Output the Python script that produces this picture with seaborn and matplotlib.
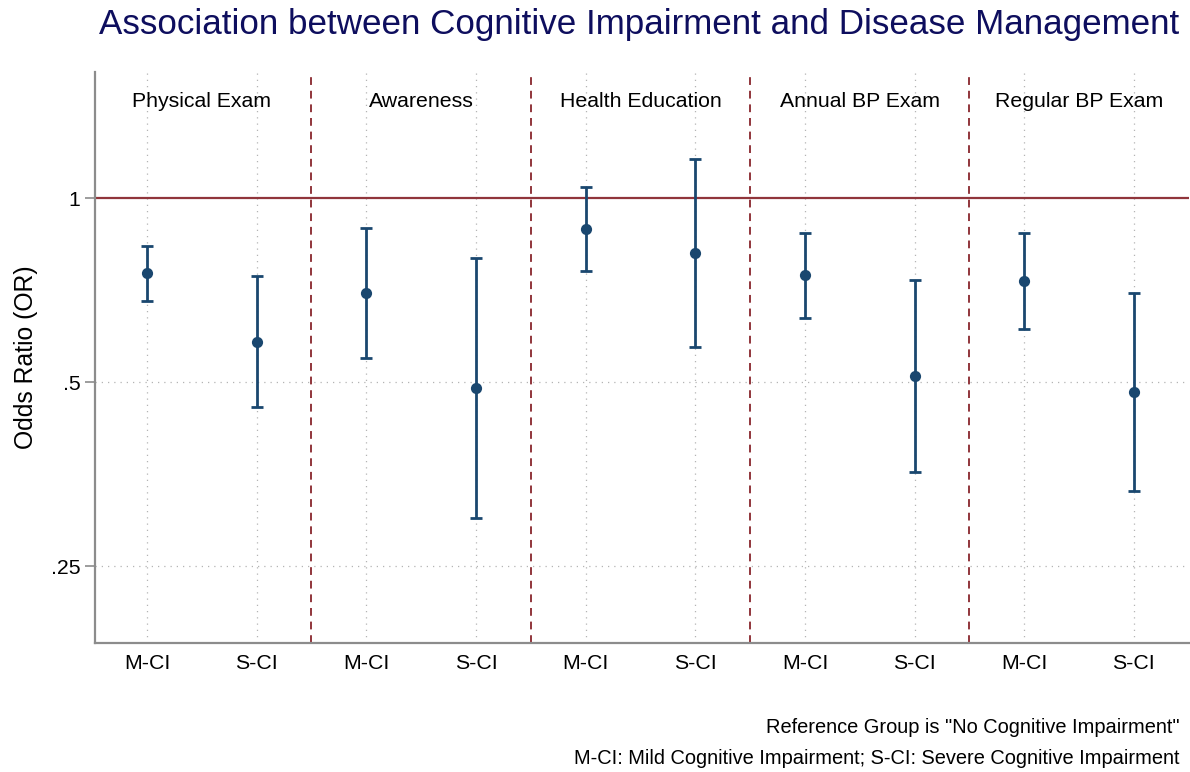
import numpy as np
import pandas as pd
import seaborn as sns
import matplotlib
matplotlib.use("Agg")
import matplotlib.pyplot as plt
import matplotlib.transforms as mtransforms

sns.set_style("white")
plt.rcParams['font.family'] = ['Liberation Sans', 'DejaVu Sans']
plt.rcParams['text.color'] = 'black'
plt.rcParams['axes.labelcolor'] = 'black'
plt.rcParams['xtick.color'] = 'black'
plt.rcParams['ytick.color'] = 'black'

# data
outcomes = ["Physical Exam", "Awareness", "Health Education", "Annual BP Exam", "Regular BP Exam"]
groups = ["M-CI", "S-CI"]
odds_ratio = [0.754, 0.581, 0.699, 0.489, 0.890, 0.813, 0.748, 0.511, 0.731, 0.482]
ci_lower = [0.678, 0.455, 0.547, 0.300, 0.760, 0.571, 0.636, 0.356, 0.610, 0.332]
ci_upper = [0.835, 0.745, 0.893, 0.798, 1.042, 1.158, 0.877, 0.734, 0.877, 0.699]
y_ticks = [0.25, 0.5, 1]
y_tick_labels = [".25", ".5", "1"]

navy = "#1a476f"
cranberry = "#90353b"

df = pd.DataFrame({
    "outcome": np.repeat(outcomes, 2),
    "group": groups * len(outcomes),
    "pos": np.arange(1, 2 * len(outcomes) + 1),
    "OR": odds_ratio,
    "lo": ci_lower,
    "hi": ci_upper,
})

fig = plt.figure(figsize=(11.9, 7.72), dpi=100)
ax = fig.add_axes([0.0798, 0.167, 0.9191, 0.7398])
ax.set_yscale("log", base=2)

# grid
for p in df["pos"]:
    ax.axvline(p, color="#b4b4b4", lw=0.9, ls=(0, (1, 4)), zorder=0)
for t in y_ticks[:2]:
    ax.axhline(t, color="#b4b4b4", lw=0.9, ls=(0, (1, 4)), zorder=0)

ax.axhline(1, color=cranberry, lw=1.6, zorder=1)
for k in range(1, len(outcomes)):
    ax.axvline(2 * k + 0.5, color=cranberry, lw=1.4, ls=(0, (4, 3)), zorder=1)

ax.errorbar(df["pos"], df["OR"],
            yerr=[df["OR"] - df["lo"], df["hi"] - df["OR"]],
            fmt="none", ecolor=navy, elinewidth=2, capsize=4, capthick=2, zorder=3)
sns.scatterplot(data=df, x="pos", y="OR", color=navy, s=65, edgecolor=navy,
                linewidth=0, zorder=4, ax=ax, legend=False)

trans = mtransforms.blended_transform_factory(ax.transData, ax.transAxes)
for i, name in enumerate(outcomes):
    ax.text(2 * i + 1.5, 0.948, name, transform=trans, ha="center", va="center", fontsize=15.3)

ax.set_xlim(0.526, 10.5)
ax.set_ylim(0.187, 1.608)
ax.set_xticks(df["pos"])
ax.set_xticklabels(df["group"], fontsize=15.3)
ax.set_yticks(y_ticks)
ax.set_yticklabels(y_tick_labels, fontsize=15.3)
ax.yaxis.set_minor_locator(matplotlib.ticker.NullLocator())
ax.tick_params(axis="y", which="major", length=7, width=1.2, color="#8c8c8c", left=True)
ax.tick_params(axis="x", length=0, pad=8)
ax.set_xlabel("")
ax.set_ylabel("Odds Ratio (OR)", fontsize=17.8, labelpad=9)

sns.despine(ax=ax, top=True, right=True)
for side in ["left", "bottom"]:
    ax.spines[side].set_color("#8c8c8c")
    ax.spines[side].set_linewidth(1.6)

fig.text(0.991, 0.968, "Association between Cognitive Impairment and Disease Management",
         ha="right", va="center", fontsize=25.2, color="#0e0e5e")
fig.text(0.991, 0.058, 'Reference Group is "No Cognitive Impairment"', ha="right", va="center", fontsize=14.4)
fig.text(0.991, 0.018, "M-CI: Mild Cognitive Impairment; S-CI: Severe Cognitive Impairment",
         ha="right", va="center", fontsize=14.4)

fig.savefig("out.png", dpi=100)
